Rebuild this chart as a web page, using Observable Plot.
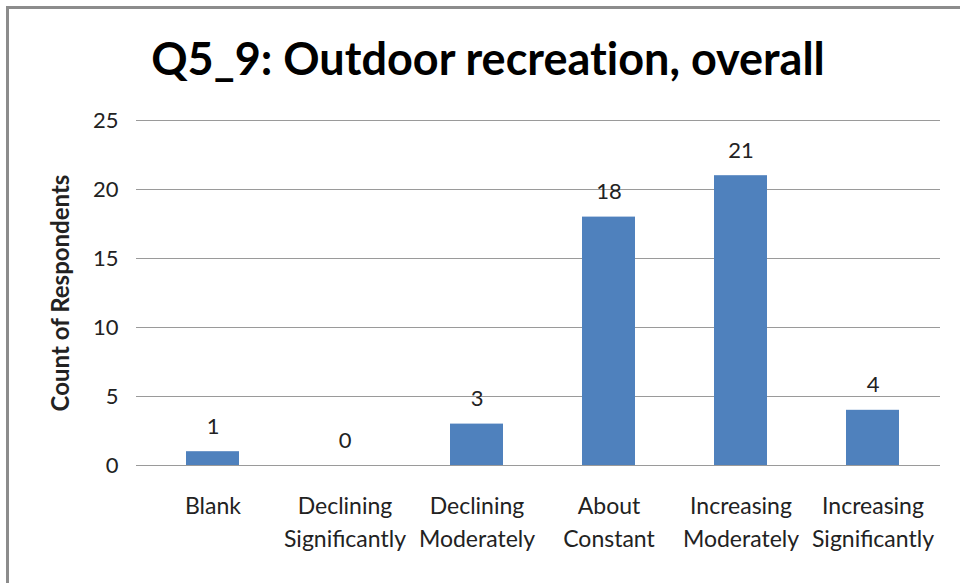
<!DOCTYPE html>
<html><head><meta charset="utf-8">
<script src="https://cdn.jsdelivr.net/npm/d3@7"></script>
<script src="https://cdn.jsdelivr.net/npm/@observablehq/plot@0.6"></script>
<style>
body{margin:0;background:#fff;width:960px;height:583px;overflow:hidden;position:relative;font-family:Lato,"Open Sans",sans-serif;}
#frame{position:absolute;left:6px;top:6px;width:1000px;height:1000px;border-left:3px solid #8c8c8c;border-top:3px solid #8c8c8c;}
#title{position:absolute;left:0;top:33px;width:976px;text-align:center;font-size:45px;font-weight:bold;color:#000;line-height:50px;font-variant-ligatures:none;}
#chart{position:absolute;left:0;top:100px;}
#chart g[aria-label="y-axis label"]{font-weight:bold;font-size:24px;}
</style></head><body>
<div id="frame"></div>
<div id="title">Q5_9: Outdoor recreation, overall</div>
<div id="chart"></div>
<script>
const categories = ["Blank","Declining Significantly","Declining Moderately","About Constant","Increasing Moderately","Increasing Significantly"];
const labels = ["Blank","Declining\nSignificantly","Declining\nModerately","About\nConstant","Increasing\nModerately","Increasing\nSignificantly"];
const counts = [1,0,3,18,21,4];
const yTicks = [0,5,10,15,20,25];
const data = categories.map((c,i)=>({category:c,count:counts[i]}));
const labelOf = new Map(categories.map((c,i)=>[c,labels[i]]));
const chart = Plot.plot({
  width:960, height:483,
  marginLeft:145, marginRight:20, marginTop:20, marginBottom:118,
  style:{fontFamily:"Lato, 'Open Sans', sans-serif", background:"transparent", color:"#222"},
  x:{domain:categories, paddingInner:0.6, paddingOuter:0.3},
  y:{domain:[0,25]},
  marks:[
    Plot.ruleY(yTicks,{stroke:"#9a9a9a", insetLeft:-9}),
    Plot.ruleX([0],{frameAnchor:"left", y1:0, y2:25, stroke:"#9a9a9a"}),
    Plot.axisY({ticks:yTicks, tickSize:0, tickPadding:27, fontSize:22, label:"Count of Respondents", labelAnchor:"center", labelArrow:"none", labelOffset:94}),
    Plot.axisX({tickSize:0, tickPadding:25, fontSize:23, lineHeight:1.43, tickFormat:d=>labelOf.get(d), label:null}),
    Plot.barY(data,{x:"category",y:"count",fill:"#4F81BD"}),
    Plot.text(data,{x:"category",y:"count",text:d=>String(d.count),dy:-25,fontSize:22,fill:"#222"})
  ]
});
document.getElementById("chart").append(chart);
</script>
</body></html>
